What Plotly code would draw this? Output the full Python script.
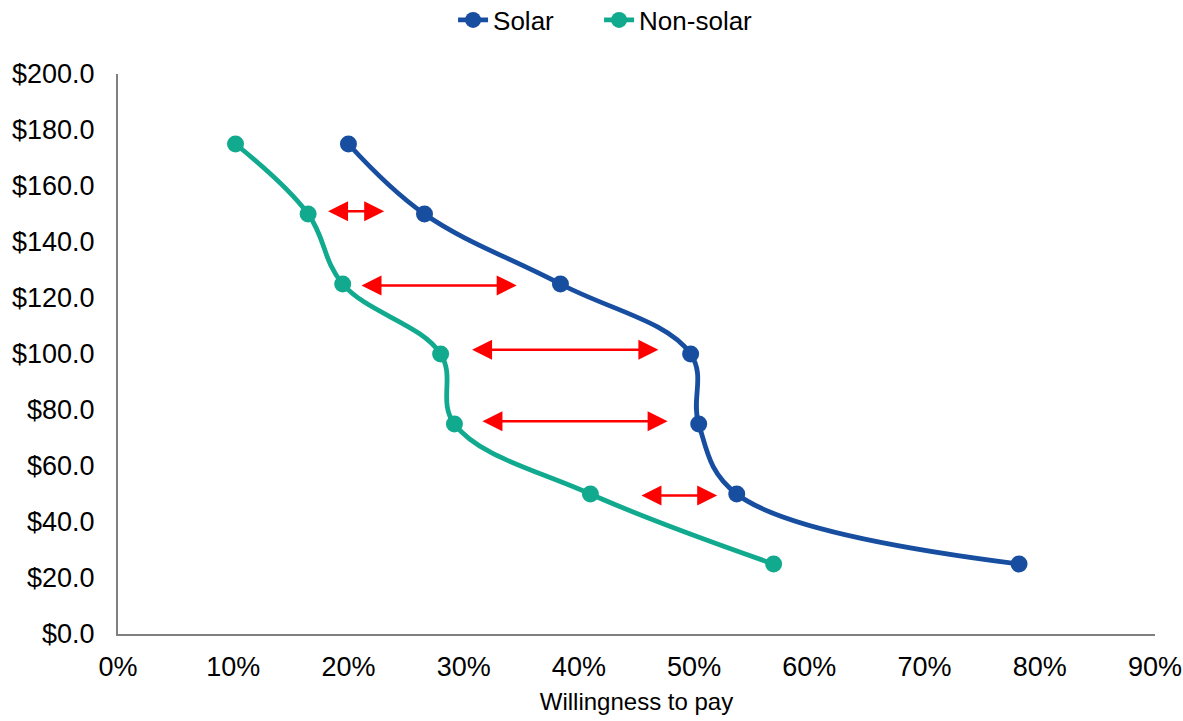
import plotly.graph_objects as go

price = [175, 150, 125, 100, 75, 50, 25]
solar = [20.0, 26.6, 38.4, 49.7, 50.4, 53.7, 78.2]
non_solar = [10.2, 16.5, 19.5, 28.0, 29.2, 41.0, 56.9]

arrow_y = [151, 124.5, 101.5, 76, 49.5]
arrow_x0 = [18.1, 21.0, 30.6, 31.5, 45.3]
arrow_x1 = [23.1, 34.6, 46.9, 47.7, 52.0]

solar_color = "#174EA0"
non_solar_color = "#12AA8E"

fig = go.Figure()
fig.add_trace(go.Scatter(x=solar, y=price, mode="lines+markers", name="Solar", showlegend=True,
                         line=dict(color=solar_color, width=4.8, shape="spline", smoothing=1.1),
                         marker=dict(size=17, color=solar_color), legend="legend"))
fig.add_trace(go.Scatter(x=non_solar, y=price, mode="lines+markers", name="Non-solar", showlegend=True,
                         line=dict(color=non_solar_color, width=4.8, shape="spline", smoothing=1.1),
                         marker=dict(size=17, color=non_solar_color), legend="legend2"))

annotations = []
for y, x0, x1 in zip(arrow_y, arrow_x0, arrow_x1):
    annotations.append(dict(x=x1, y=y, ax=x0, ay=y, xref="x", yref="y", axref="x", ayref="y",
                            text="", showarrow=True, arrowside="end+start", arrowhead=2,
                            startarrowhead=2, arrowsize=1.6, startarrowsize=1.6,
                            arrowwidth=2.5, arrowcolor="#FF0000"))

legend_style = dict(orientation="h", xanchor="left", y=1.0964, yanchor="middle",
                    font=dict(size=26), bgcolor="rgba(0,0,0,0)")

fig.update_layout(
    width=1183, height=721,
    showlegend=True,
    margin=dict(l=118, r=28, t=74, b=87, autoexpand=False),
    plot_bgcolor="white", paper_bgcolor="white",
    font=dict(family="Liberation Sans, Arial", size=27, color="black"),
    legend=dict(x=0.3231, **legend_style),
    legend2=dict(x=0.4639, **legend_style),
    annotations=annotations,
    xaxis=dict(range=[0, 90], dtick=10, ticksuffix="%", showgrid=False, zeroline=False,
               showline=True, linecolor="#808080", linewidth=2, ticks="",
               ticklabelstandoff=8,
               title=dict(text="Willingness to pay", font=dict(size=24), standoff=12)),
    yaxis=dict(range=[0, 200], dtick=20, tickprefix="$", tickformat=".1f", showgrid=False,
               zeroline=False, showline=True, linecolor="#808080", linewidth=2, ticks="",
               ticklabelstandoff=16),
)

fig.write_html("out.html", config={"displayModeBar": False},
               post_script="document.body.style.margin='0';document.body.style.overflow='hidden';")
